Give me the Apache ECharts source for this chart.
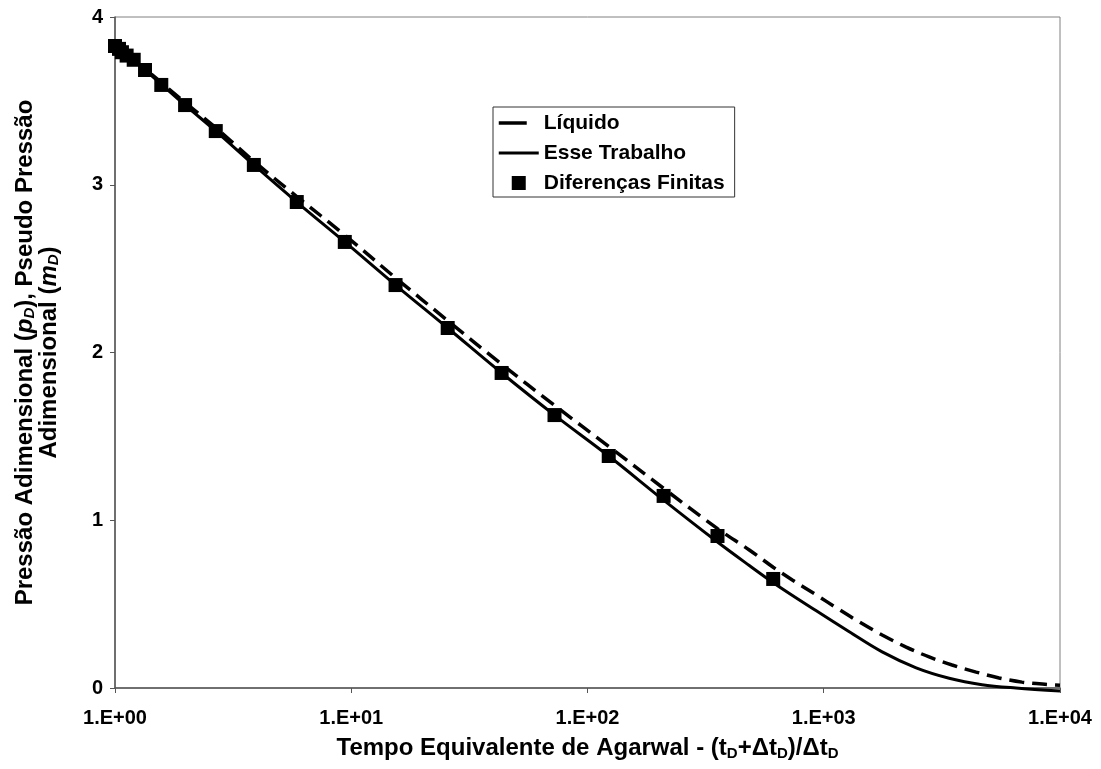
<!DOCTYPE html>
<html>
<head>
<meta charset="utf-8">
<script src="https://cdn.jsdelivr.net/npm/echarts@6/dist/echarts.min.js"></script>
<style>
  html, body { margin: 0; padding: 0; background: #fff; }
  #chart { width: 1101px; height: 769px; }
</style>
</head>
<body>
<div id="chart"></div>
<script>
// Tick labels for the log-scaled time axis
const xTickLabels = ['1.E+00', '1.E+01', '1.E+02', '1.E+03', '1.E+04'];
const yTicks = [0, 1, 2, 3, 4];

// Líquido (dashed curve)
const liquidoX = [1.0, 1.34, 1.98, 2.67, 3.87, 5.88, 9.39, 15.4, 25.6, 43.3, 72.5, 123, 210, 355, 484, 611, 736, 930, 1140, 1413, 1767, 2233, 2793, 3493, 4416, 5521, 6905, 8980, 10000];
const liquidoY = [3.83, 3.69, 3.49, 3.34, 3.14, 2.93, 2.70, 2.445, 2.19, 1.93, 1.685, 1.44, 1.19, 0.95, 0.823, 0.72, 0.644, 0.555, 0.475, 0.394, 0.316, 0.244, 0.185, 0.137, 0.095, 0.06, 0.035, 0.02, 0.016];

// Esse Trabalho (solid curve)
const trabalhoX = [1.0, 1.34, 1.98, 2.67, 3.87, 5.88, 9.39, 15.4, 25.6, 43.3, 72.5, 123, 210, 355, 484, 611, 930, 1282, 1767, 2461, 3395, 4677, 6514, 10000];
const trabalhoY = [3.83, 3.684, 3.475, 3.32, 3.118, 2.897, 2.659, 2.402, 2.146, 1.878, 1.627, 1.383, 1.12, 0.87, 0.73, 0.628, 0.46, 0.335, 0.215, 0.12, 0.058, 0.02, 0.0, -0.018];

// Diferenças Finitas (square markers)
const finitasX = [1.0, 1.04, 1.07, 1.12, 1.2, 1.34, 1.57, 1.98, 2.67, 3.87, 5.88, 9.39, 15.4, 25.6, 43.3, 72.5, 123, 210, 355, 611];
const finitasY = [3.827, 3.81, 3.79, 3.77, 3.745, 3.684, 3.595, 3.475, 3.32, 3.118, 2.897, 2.659, 2.402, 2.146, 1.878, 1.627, 1.383, 1.145, 0.906, 0.65];

const pairs = (xs, ys) => xs.map((x, i) => [x, ys[i]]);

const FONT = '"Liberation Sans", Arial, sans-serif';
const hidden = { color: 'rgba(0,0,0,0)', borderWidth: 0, opacity: 0 };

const chart = echarts.init(document.getElementById('chart'));
chart.setOption({
  animation: false,
  backgroundColor: '#ffffff',
  grid: {
    left: 115, right: 41, top: 17, bottom: 81,
    show: true, borderColor: '#808080', borderWidth: 1
  },
  legend: {
    left: 493, top: 107,
    orient: 'vertical',
    padding: [5, 10, 3, 4],
    itemGap: 8,
    itemWidth: 40,
    itemHeight: 14,
    borderColor: '#333', borderWidth: 1,
    backgroundColor: '#fff',
    textStyle: { fontFamily: FONT, fontWeight: 'bold', fontSize: 21, lineHeight: 22, color: '#000' },
    data: [
      { name: 'Líquido', itemStyle: hidden, lineStyle: { color: '#000', width: 3.5, type: [28, 20] } },
      { name: 'Esse Trabalho', itemStyle: hidden, lineStyle: { color: '#000', width: 3 } },
      { name: 'Diferenças Finitas', icon: 'path://M0,0L10,0L10,10L0,10Z' }
    ]
  },
  xAxis: {
    type: 'log', logBase: 10, min: 1, max: 10000,
    axisLine: { lineStyle: { color: '#555', width: 1.5 } },
    axisTick: { show: true, length: 5, lineStyle: { color: '#555' } },
    minorTick: { show: false },
    splitLine: { show: false },
    axisLabel: {
      margin: 20,
      fontFamily: FONT, fontWeight: 'bold', fontSize: 20, color: '#000',
      formatter: v => xTickLabels[Math.round(Math.log10(v))]
    },
    name: '{t|Tempo Equivalente de Agarwal - (t}{s|D}{t|+Δt}{s|D}{t|)/Δt}{s|D}',
    nameLocation: 'middle',
    nameGap: 47,
    nameTextStyle: {
      rich: {
        t: { fontFamily: FONT, fontWeight: 'bold', fontSize: 24, color: '#000', lineHeight: 26 },
        s: { fontFamily: FONT, fontWeight: 'bold', fontSize: 15, color: '#000', lineHeight: 26, padding: [11, 0, 0, 0] }
      }
    }
  },
  yAxis: {
    type: 'value', min: 0, max: 4, interval: 1,
    axisLine: { show: true, lineStyle: { color: '#555', width: 1.5 } },
    axisTick: { show: true, length: 5, lineStyle: { color: '#555' } },
    splitLine: { show: false },
    axisLabel: {
      margin: 12,
      fontFamily: FONT, fontWeight: 'bold', fontSize: 20, color: '#000',
      formatter: v => yTicks.includes(v) ? String(v) : ''
    },
    name: '{t|Pressão Adimensional (}{i|p}{s|D}{t|), Pseudo Pressão}\n{t|Adimensional (}{i|m}{s|D}{t|)}',
    nameLocation: 'middle',
    nameGap: 54,
    nameTextStyle: {
      align: 'center',
      rich: {
        t: { fontFamily: FONT, fontWeight: 'bold', fontSize: 24, color: '#000', lineHeight: 24 },
        i: { fontFamily: FONT, fontWeight: 'bold', fontStyle: 'italic', fontSize: 24, color: '#000', lineHeight: 24 },
        s: { fontFamily: FONT, fontWeight: 'bold', fontStyle: 'italic', fontSize: 15, color: '#000', lineHeight: 24, padding: [10, 0, 0, 0] }
      }
    }
  },
  series: [
    {
      name: 'Líquido',
      type: 'line',
      data: pairs(liquidoX, liquidoY),
      smooth: 0.35,
      symbol: 'none',
      clip: false,
      lineStyle: { color: '#000', width: 3.5, type: [15, 8] },
      itemStyle: { color: '#000' },
      z: 2
    },
    {
      name: 'Esse Trabalho',
      type: 'line',
      data: pairs(trabalhoX, trabalhoY),
      smooth: 0.35,
      symbol: 'none',
      clip: false,
      lineStyle: { color: '#000', width: 3 },
      itemStyle: { color: '#000' },
      z: 3
    },
    {
      name: 'Diferenças Finitas',
      type: 'scatter',
      data: pairs(finitasX, finitasY),
      symbol: 'rect',
      symbolSize: 14,
      itemStyle: { color: '#000', opacity: 1 },
      z: 4
    }
  ]
});
</script>
</body>
</html>
